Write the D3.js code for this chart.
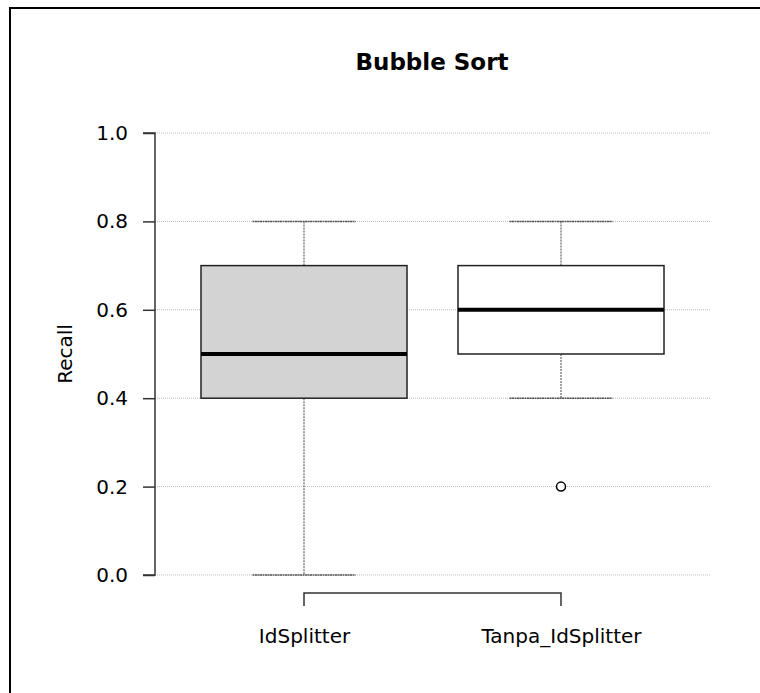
<!DOCTYPE html>
<html>
<head>
<meta charset="utf-8">
<script src="https://cdn.jsdelivr.net/npm/d3@7"></script>
<style>
  body { margin: 0; background: #fff; }
  text { font-family: "DejaVu Sans", sans-serif; }
</style>
</head>
<body>
<div id="chart"></div>
<script>
  const width = 760, height = 693;

  // box summaries
  const categories = ["IdSplitter", "Tanpa_IdSplitter"];
  const lowWhisker = [0.0, 0.4];
  const q1 = [0.4, 0.5];
  const medians = [0.5, 0.6];
  const q3 = [0.7, 0.7];
  const highWhisker = [0.8, 0.8];
  const outliers = [[], [0.2]];
  const fills = ["#d3d3d3", "#ffffff"];
  const yTicks = [0, 0.2, 0.4, 0.6, 0.8, 1.0];

  const svg = d3.select('#chart')
    .append('svg')
    .attr('width', width)
    .attr('height', height);

  // outer frame
  svg.append('rect')
    .attr('x', 10).attr('y', 8)
    .attr('width', 800).attr('height', 800)
    .attr('fill', 'none').attr('stroke', '#000').attr('stroke-width', 2);

  const y = d3.scaleLinear().domain([0, 1]).range([575, 133]);
  const x = d3.scalePoint().domain(categories).range([304, 561]);
  const boxW = 206;

  // grid
  svg.append('g')
    .selectAll('line')
    .data(yTicks)
    .join('line')
    .attr('x1', 155).attr('x2', 710)
    .attr('y1', d => y(d)).attr('y2', d => y(d))
    .attr('stroke', '#bbb').attr('stroke-width', 1)
    .attr('stroke-dasharray', '1,1');

  // y axis
  const yAxis = svg.append('g')
    .attr('transform', 'translate(155,0)')
    .call(d3.axisLeft(y).tickValues(yTicks).tickFormat(d3.format('.1f')).tickSize(12).tickPadding(15));
  yAxis.selectAll('path, line').attr('stroke', '#333').attr('stroke-width', 1.5);
  yAxis.select('.domain').attr('d', `M-12,${y(0)}H0V${y(1)}H-12`);
  yAxis.selectAll('text').attr('font-size', 20).attr('fill', '#000')
    .style('font-family', '"DejaVu Sans", sans-serif');

  // x axis bracket
  const xAxis = svg.append('g')
    .attr('transform', 'translate(0,593)')
    .call(d3.axisBottom(x).tickSize(13));
  xAxis.select('.domain').attr('d', `M${x(categories[0])},13V0H${x(categories[1])}V13`)
    .attr('stroke', '#333').attr('stroke-width', 1.5);
  xAxis.selectAll('.tick line').remove();
  xAxis.selectAll('text').attr('font-size', 20).attr('fill', '#000')
    .attr('y', 50).attr('dy', 0)
    .style('font-family', '"DejaVu Sans", sans-serif');

  const idx = d3.range(categories.length);
  const g = svg.append('g').selectAll('g').data(idx).join('g');

  // whiskers
  g.append('line')
    .attr('x1', i => x(categories[i])).attr('x2', i => x(categories[i]))
    .attr('y1', i => y(highWhisker[i])).attr('y2', i => y(q3[i]))
    .attr('stroke', '#666').attr('stroke-width', 1.2).attr('stroke-dasharray', '2,1');
  g.append('line')
    .attr('x1', i => x(categories[i])).attr('x2', i => x(categories[i]))
    .attr('y1', i => y(q1[i])).attr('y2', i => y(lowWhisker[i]))
    .attr('stroke', '#666').attr('stroke-width', 1.2).attr('stroke-dasharray', '2,1');
  // caps
  [highWhisker, lowWhisker].forEach(arr => {
    g.append('line')
      .attr('x1', i => x(categories[i]) - boxW / 4).attr('x2', i => x(categories[i]) + boxW / 4)
      .attr('y1', i => y(arr[i])).attr('y2', i => y(arr[i]))
      .attr('stroke', '#555').attr('stroke-width', 1.5).attr('stroke-dasharray', '2,0.5');
  });

  // boxes
  g.append('rect')
    .attr('x', i => x(categories[i]) - boxW / 2)
    .attr('y', i => y(q3[i]))
    .attr('width', boxW)
    .attr('height', i => y(q1[i]) - y(q3[i]))
    .attr('fill', i => fills[i])
    .attr('stroke', '#222').attr('stroke-width', 1.5);

  // medians
  g.append('line')
    .attr('x1', i => x(categories[i]) - boxW / 2).attr('x2', i => x(categories[i]) + boxW / 2)
    .attr('y1', i => y(medians[i])).attr('y2', i => y(medians[i]))
    .attr('stroke', '#000').attr('stroke-width', 4);

  // outliers
  g.selectAll('circle')
    .data(i => outliers[i].map(v => [i, v]))
    .join('circle')
    .attr('cx', d => x(categories[d[0]]))
    .attr('cy', d => y(d[1]))
    .attr('r', 4.5)
    .attr('fill', '#fff').attr('stroke', '#000').attr('stroke-width', 1.5);

  // title
  svg.append('text')
    .attr('x', 432).attr('y', 70)
    .attr('text-anchor', 'middle')
    .attr('font-size', 23).attr('font-weight', 'bold')
    .text('Bubble Sort');

  // y label
  svg.append('text')
    .attr('transform', `translate(72,${(y(0) + y(1)) / 2}) rotate(-90)`)
    .attr('text-anchor', 'middle')
    .attr('font-size', 20)
    .text('Recall');
</script>
</body>
</html>
